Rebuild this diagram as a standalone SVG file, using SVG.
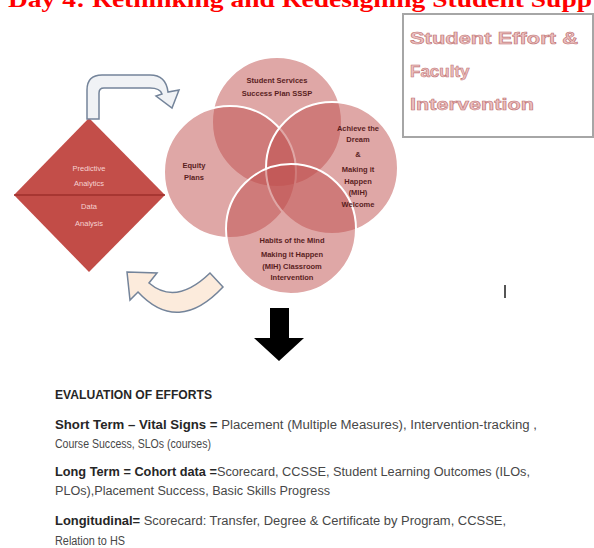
<svg xmlns="http://www.w3.org/2000/svg" width="594" height="548" viewBox="0 0 594 548">
<style>
.title{font-family:"Liberation Serif",serif;font-weight:bold;font-size:24px;fill:#ff0000}
.box{fill:#ffffff;stroke:#a6a6a6;stroke-width:2}
.wa{font-family:"Liberation Sans",Arial,sans-serif;font-weight:bold;font-size:17px;fill:#ecc0c0;stroke:#c07474;stroke-width:0.6}
.circ{fill:#c0504d;fill-opacity:0.5;stroke:#ffffff;stroke-width:2}
.ct{font-family:"Liberation Sans",Arial,sans-serif;font-weight:bold;font-size:7.5px;fill:#5a1e1e;text-anchor:middle}
.dt{font-family:"Liberation Sans",Arial,sans-serif;font-size:7.5px;fill:#f6d2d2;text-anchor:middle}
.ev{font-family:"Liberation Sans",Arial,sans-serif;font-size:12px;fill:#474747}
.evb{font-weight:bold;fill:#262626}
.ua{fill:#f0f2f5;stroke:#74849a;stroke-width:1.5}
.ub{fill:#fcebdc;stroke:#74849a;stroke-width:1.5}
</style>
<rect width="594" height="548" fill="#ffffff"/>
<text class="title" x="8" y="7" textLength="584" lengthAdjust="spacingAndGlyphs">Day 4: Rethinking and Redesigning Student Supp</text>

<g id="effort-box">
<rect class="box" x="403" y="14" width="190" height="123"/>
<text class="wa" x="410" y="44" textLength="168" lengthAdjust="spacingAndGlyphs">Student Effort &amp;</text>
<text class="wa" x="410" y="77">Faculty</text>
<text class="wa" x="410" y="110" textLength="124" lengthAdjust="spacingAndGlyphs">Intervention</text>
</g>

<g id="diamond">
<polygon points="89,118 165,195 14,195" fill="#c34e49"/>
<polygon points="14,195 165,195 89,272" fill="#c24c47"/>
<line x1="14" y1="195" x2="165" y2="195" stroke="#9e2f2b" stroke-width="1.5"/>
<text class="dt" x="89" y="171">Predictive</text>
<text class="dt" x="89" y="186">Analytics</text>
<text class="dt" x="89" y="209">Data</text>
<text class="dt" x="89" y="226">Analysis</text>
</g>

<g id="venn">
<g id="sssp"><circle class="circ" cx="277" cy="122" r="65"/></g>
<g id="equity"><circle class="circ" cx="230" cy="172" r="66"/></g>
<g id="atd"><circle class="circ" cx="332" cy="168" r="66"/></g>
<g id="habits"><circle class="circ" cx="291" cy="229" r="65"/></g>
<text class="ct" x="277" y="83">Student Services</text>
<text class="ct" x="277" y="96">Success Plan SSSP</text>
<text class="ct" x="194" y="168">Equity</text>
<text class="ct" x="194" y="180">Plans</text>
<text class="ct" x="358" y="131">Achieve the</text>
<text class="ct" x="358" y="142">Dream</text>
<text class="ct" x="358" y="157">&amp;</text>
<text class="ct" x="358" y="172">Making it</text>
<text class="ct" x="358" y="184">Happen</text>
<text class="ct" x="358" y="195">(MIH)</text>
<text class="ct" x="358" y="207">Welcome</text>
<text class="ct" x="292" y="243">Habits of the Mind</text>
<text class="ct" x="292" y="257">Making it Happen</text>
<text class="ct" x="292" y="269">(MIH) Classroom</text>
<text class="ct" x="292" y="280">Intervention</text>
</g>

<g id="connectors">
<path class="ua" d="M87 119 L87 90 Q87 75 102 75 L150 75 Q166 75 168 92 L179 90 L172 108 L156 96 L162 94 Q160 88 150 88 L104 88 Q99 88 99 93 L99 119 Z"/>
<path class="ub" d="M127 272 L157 273 L149 283 Q176 306 210 273 L223 287 Q178 335 138 292 L130 300 Z"/>
<polygon points="270,308 289,308 289,338 304,338 279,361 254,338 270,338" fill="#000000"/>
</g>

<rect x="504" y="285" width="2" height="13" fill="#555555"/>

<g id="evaluation">
<text class="ev evb" x="55" y="399" textLength="157" lengthAdjust="spacingAndGlyphs">EVALUATION OF EFFORTS</text>
<text class="ev" x="55" y="429" textLength="482" lengthAdjust="spacingAndGlyphs"><tspan class="evb">Short Term – Vital Signs = </tspan>Placement (Multiple Measures), Intervention-tracking ,</text>
<text class="ev" x="55" y="448" textLength="156" lengthAdjust="spacingAndGlyphs">Course Success, SLOs (courses)</text>
<text class="ev" x="55" y="476" textLength="475" lengthAdjust="spacingAndGlyphs"><tspan class="evb">Long Term = Cohort data =</tspan>Scorecard, CCSSE, Student Learning Outcomes (ILOs,</text>
<text class="ev" x="55" y="495" textLength="275" lengthAdjust="spacingAndGlyphs">PLOs),Placement Success, Basic Skills Progress</text>
<text class="ev" x="55" y="525" textLength="451" lengthAdjust="spacingAndGlyphs"><tspan class="evb">Longitudinal= </tspan>Scorecard: Transfer, Degree &amp; Certificate by Program, CCSSE,</text>
<text class="ev" x="55" y="545" textLength="70" lengthAdjust="spacingAndGlyphs">Relation to HS</text>
</g>
</svg>
